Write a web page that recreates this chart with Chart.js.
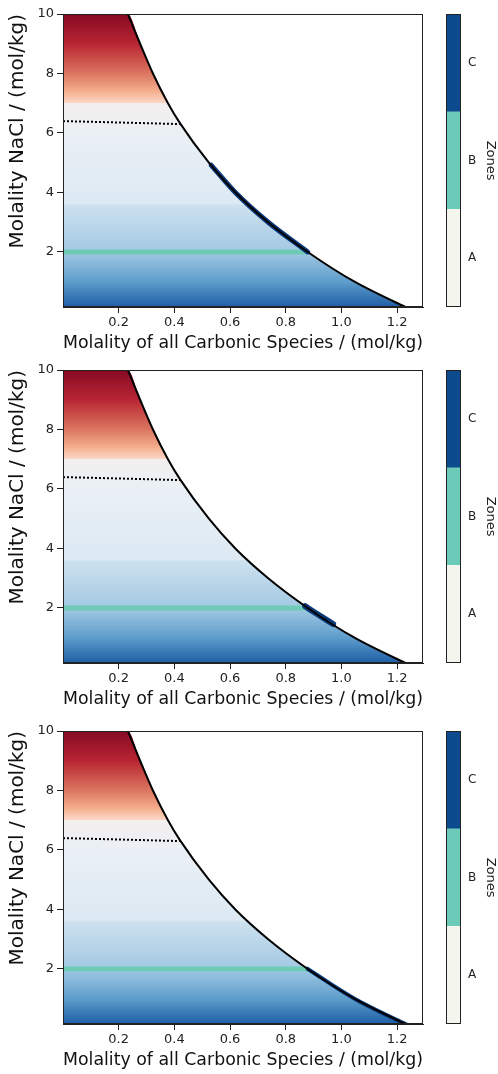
<!DOCTYPE html>
<html>
<head>
<meta charset="utf-8">
<script src="https://cdn.jsdelivr.net/npm/chart.js@4/dist/chart.umd.min.js"></script>
<style>
  body { margin: 0; background: #fff; width: 498px; height: 1074px; position: relative; overflow: hidden; }
  canvas { position: absolute; }
</style>
</head>
<body>
<canvas id="main1" width="440" height="357" style="left:0;top:0"></canvas>
<canvas id="bar1" width="68" height="357" style="left:430px;top:0"></canvas>
<canvas id="main2" width="440" height="357" style="left:0;top:356px"></canvas>
<canvas id="bar2" width="68" height="357" style="left:430px;top:356px"></canvas>
<canvas id="main3" width="440" height="357" style="left:0;top:717px"></canvas>
<canvas id="bar3" width="68" height="357" style="left:430px;top:717px"></canvas>
<script>
// boundary curve
const curveX = [0.233, 0.277, 0.323, 0.377, 0.42, 0.524, 0.619, 0.737, 0.879, 1.047, 1.23, 1.265];
const curveY = [10, 9, 8, 7, 6.33, 5, 4, 3, 2, 1, 0.15, 0];

// dotted line and the teal line at 2 mol/kg
const dottedX = [0, 0.42];
const dottedY = [6.4, 6.3];
const tealX = [0, 0.879];
const tealY = [2, 2];

// dark blue stretch of the boundary, one per panel
const seg1X = [0.532, 0.619, 0.737, 0.879];
const seg1Y = [4.92, 4, 3, 2];
const seg2X = [0.87, 0.879, 0.92, 0.97];
const seg2Y = [2.06, 2, 1.756, 1.46];
const seg3X = [0.879, 1.047, 1.23, 1.265];
const seg3Y = [2, 1, 0.15, 0];

// vertical colour ramp of the filled region: [NaCl molality, colour]
const gradStops = [
  [10, '#860a24'], [9, '#b82532'], [8, '#dc7660'], [7.4, '#f4ae8e'], [7.02, '#fbd6c6'],
  [7.0, '#f4efee'], [6.0, '#eaf0f5'], [3.62, '#dce9f3'], [3.58, '#cde1ef'],
  [2.0, '#a2c9e3'], [1.0, '#5e9dcb'], [0.15, '#1e5ea6']
];

const xTicks = [0.2, 0.4, 0.6, 0.8, 1.0, 1.2];
const yTicks = [2, 4, 6, 8, 10];

const zoneLabels = ['A', 'B', 'C'];
const zoneColors = ['#f4f6ee', '#6ccab8', '#0c4b8e'];

const pts = (xs, ys) => xs.map((x, i) => ({ x: x, y: ys[i] }));

const frame = {
  id: 'frame',
  afterDraw(chart) {
    const a = chart.chartArea, c = chart.ctx;
    c.save();
    c.strokeStyle = '#222';
    c.lineWidth = 1;
    c.strokeRect(Math.round(a.left) + 0.5, Math.round(a.top) + 0.5, Math.round(a.right - a.left) - 1, Math.round(a.bottom - a.top) - 1);
    c.restore();
  }
};

function fillGradient(context) {
  const chart = context.chart;
  if (!chart.chartArea) return null;
  const ys = chart.scales.y;
  const top = ys.getPixelForValue(10), bot = ys.getPixelForValue(0.15);
  const g = chart.ctx.createLinearGradient(0, top, 0, bot);
  gradStops.forEach(s => {
    let off = (ys.getPixelForValue(s[0]) - top) / (bot - top);
    g.addColorStop(Math.min(1, Math.max(0, off)), s[1]);
  });
  return g;
}

const font = 'DejaVu Sans';

function makePanel(id, segX, segY, segW) {
  new Chart(document.getElementById(id), {
    type: 'line',
    data: {
      datasets: [
        { data: pts(curveX, curveY), borderColor: '#000', borderWidth: 2, cubicInterpolationMode: 'monotone' },
        { data: pts(dottedX, dottedY), borderColor: '#000', borderWidth: 2, borderDash: [2, 2] },
        { data: pts(segX, segY), borderColor: '#0a3a7a', borderWidth: segW, cubicInterpolationMode: 'monotone', borderCapStyle: 'round' },
        { data: pts(tealX, tealY), borderColor: '#6fcab6', borderWidth: 5 },
        { data: pts([0].concat(curveX), [10].concat(curveY)), borderWidth: 0, borderColor: 'rgba(0,0,0,0)',
          backgroundColor: fillGradient, fill: 'origin', cubicInterpolationMode: 'monotone' }
      ]
    },
    options: {
      responsive: false,
      animation: false,
      elements: { point: { radius: 0 } },
      layout: { padding: { top: 14, right: 17, left: 0, bottom: 0 } },
      plugins: { legend: { display: false }, tooltip: { enabled: false } },
      scales: {
        x: {
          type: 'linear', min: 0, max: 1.293,
          afterBuildTicks: s => { s.ticks = xTicks.map(v => ({ value: v })); },
          afterFit: s => { s.height = 50; },
          grid: { drawOnChartArea: false, tickLength: 6, color: '#222' },
          border: { color: '#222' },
          ticks: { font: { family: font, size: 13 }, color: '#222', padding: 2, maxRotation: 0, callback: v => v.toFixed(1) },
          title: { display: true, text: 'Molality of all Carbonic Species / (mol/kg)', font: { family: font, size: 18 }, color: '#111', padding: { bottom: 3, top: 0 } }
        },
        y: {
          type: 'linear', min: 0.15, max: 10,
          afterBuildTicks: s => { s.ticks = yTicks.map(v => ({ value: v })); },
          afterFit: s => { s.width = 63; },
          grid: { drawOnChartArea: false, tickLength: 6, color: '#222' },
          border: { color: '#222' },
          ticks: { font: { family: font, size: 13 }, color: '#222', padding: 3 },
          title: { display: true, text: 'Molality NaCl / (mol/kg)', align: 'end', font: { family: font, size: 20 }, color: '#111', padding: { top: 6, bottom: 0 } }
        }
      }
    },
    plugins: [frame]
  });
}

function makeBar(id) {
  new Chart(document.getElementById(id), {
    type: 'bar',
    data: {
      labels: [''],
      datasets: zoneLabels.map((z, i) => ({ label: z, data: [1], backgroundColor: zoneColors[i], barPercentage: 1, categoryPercentage: 1, borderWidth: 0 }))
    },
    options: {
      responsive: false,
      animation: false,
      layout: { padding: { top: 14, left: 16, right: 0, bottom: 50 } },
      plugins: { legend: { display: false }, tooltip: { enabled: false } },
      scales: {
        x: { stacked: true, display: false },
        y: {
          stacked: true, position: 'right', min: 0, max: 3,
          afterBuildTicks: s => { s.ticks = [0.5, 1.5, 2.5].map(v => ({ value: v })); },
          afterFit: s => { s.width = 37; },
          grid: { drawOnChartArea: false, drawTicks: false },
          border: { display: false },
          ticks: { font: { family: font, size: 12 }, color: '#222', padding: 7, callback: (v, i) => zoneLabels[i] },
          title: { display: true, text: 'Zones', font: { family: font, size: 13 }, color: '#222', padding: 0 }
        }
      }
    },
    plugins: [frame]
  });
}

makePanel('main1', seg1X, seg1Y, 5);
makePanel('main2', seg2X, seg2Y, 6);
makePanel('main3', seg3X, seg3Y, 4);
makeBar('bar1');
makeBar('bar2');
makeBar('bar3');
</script>
</body>
</html>
